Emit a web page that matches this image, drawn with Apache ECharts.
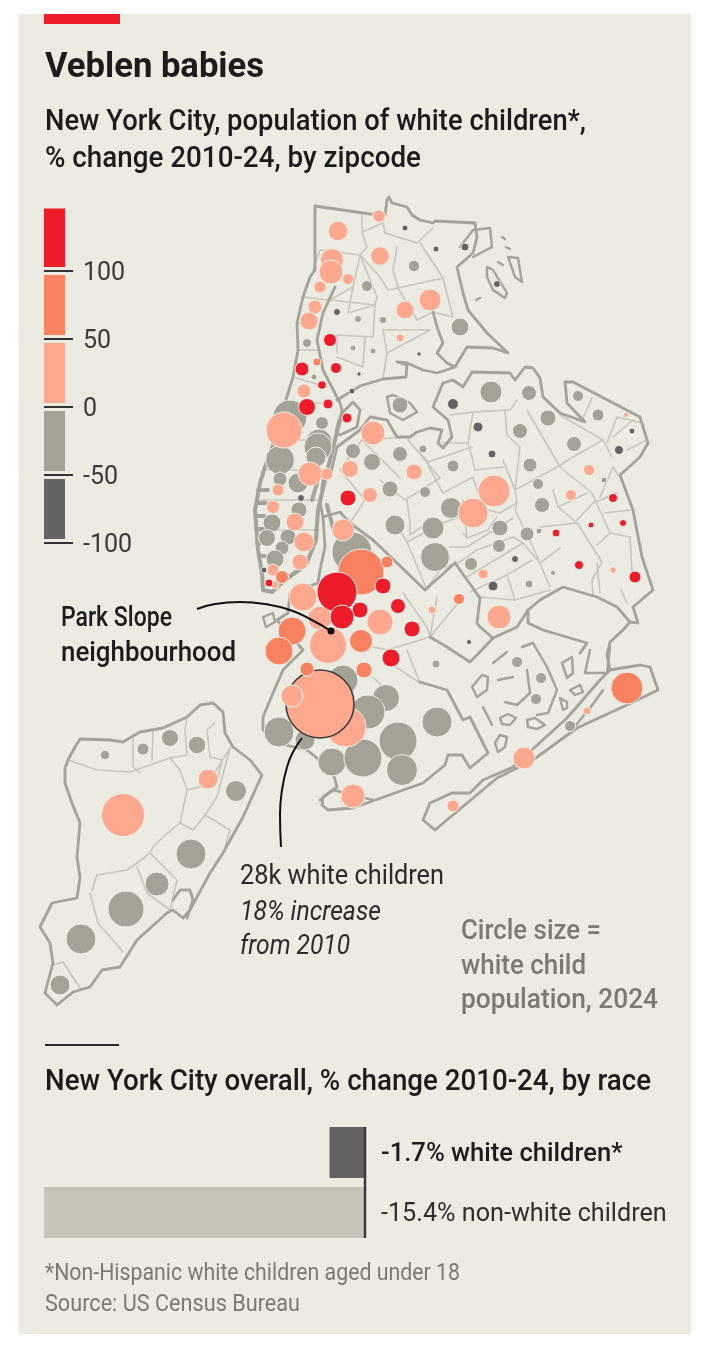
<!DOCTYPE html>
<html><head><meta charset="utf-8">
<style>html,body{margin:0;padding:0;background:#fff}#panel{position:absolute;left:19px;top:14px;width:672px;height:1320px;background:#ebebe1}#c{position:absolute;left:0;top:0;width:712px;height:1352px}</style>
<script src="https://cdn.jsdelivr.net/npm/echarts@6/dist/echarts.min.js"></script>
</head><body><div id="panel"></div><div id="c"></div>
<script>
// Zipcode circles: [x, y, radius]
const fallOver50 = [[405,228,3],[436,249,3],[465,247,4],[497,284,3.5],[337,312,3.5],[419,354,2.2],[359,374,2.2],[352,391,3],[453,404,5.5],[478,427,5],[492,454,4],[632,431,3],[619,450,4.5],[515,559,3.5],[493,586,5],[469,642,2.5],[301,498,3.5],[264,570,3]];
const fall0to50 = [[414,266,5.7],[367,286,5.5],[358,319,3.5],[383,320,3.7],[460,327,9],[307,343,4.5],[353,348,3],[373,351,3],[314,377,3],[491,392,11],[529,393,7.5],[400,405,8],[290,417,17],[520,431,7.5],[322,423,6.5],[319,442,13],[318,447,14],[316,457,10],[353,451,7.5],[400,454,7.5],[423,449,4],[453,466,6],[530,465,7],[280,460,14.5],[372,462,8.5],[280,479,7],[390,489,8],[298,483,10],[578,396,5.5],[548,418,8],[598,415,6],[574,444,7.5],[604,480,3],[538,484,5.5],[425,492,5.5],[542,505,7.5],[451,508,10.5],[500,528,8],[433,528,11],[527,534,7],[539,531,3],[499,546,6.5],[435,557,14.5],[471,564,6.5],[553,573,2.5],[529,584,4],[299,510,8],[272,523,9],[395,525,10],[267,538,8.5],[288,537,8],[282,548,7],[275,559,9],[352,552,20],[436,664,4],[343,680,15],[386,698,13.5],[368,712,17],[437,722,15],[279,732,15],[398,741,19],[305,740,10],[332,762,14],[363,758,19],[402,770,15.5],[517,662,5.5],[541,678,5.5],[536,699,5.5],[570,726,5.5],[105,755,4.7],[143,749,6],[170,738,8.5],[197,745,8.7],[236,791,10.5],[191,854,15],[157,884,12],[126,909,18],[81,939,15],[60,985,10]];
const rise0to50 = [[338,231,9.7],[379,216,6.3],[380,256,9.3],[332,260,11.5],[331,272,12],[348,279,5.5],[320,287,6],[430,300,11],[405,310,9],[315,307,7],[309,321,9],[400,338,4],[304,391,7],[284,430,18],[373,433,12],[414,472,8],[350,469,8.5],[310,474,12],[327,474,6],[278,490,6],[494,491,16],[370,495,7.5],[626,415,2.5],[589,470,5.5],[571,495,5.5],[473,513,15],[483,574,5],[613,570,3.2],[432,610,4],[499,617,12],[273,507,6.5],[295,522,9],[304,542,10],[343,530,11],[300,562,8],[273,570,6],[275,585,4],[303,597,14],[320,618,12],[380,622,13],[328,645,18.5],[346,727,20],[353,796,12],[453,806,6],[587,711,4],[524,758,11],[208,779,10],[123,815,21.5],[320,704,34],[292,696,11]];
const rise50to100 = [[317,362,4],[459,599,5.5],[361,572,23],[387,562,6],[282,577,6.5],[292,631,14],[279,651,14],[361,641,11.5],[307,669,7],[364,670,8],[627,688,16]];
const riseOver100 = [[330,340,6.5],[302,369,7],[336,368,5.5],[322,385,4.3],[328,404,5],[307,407,8.5],[347,418,5],[613,498,4.5],[591,525,3],[623,523,3.5],[556,533,4],[579,565,4.5],[635,577,6],[348,498,8],[269,583,4],[383,586,8],[337,592,20],[398,606,7.5],[360,610,8],[342,617,12],[412,629,8],[391,658,9]];
const highlightedZip = [320,704];

// Colour key, % change
const keyTicks = [-100,-50,0,50,100];
const keyBands = [[-100,-50],[-50,0],[0,50],[50,100],[100,146]];
const keyColours = ['#636361','#a2a297','#fda88f','#f88260','#ee1c2b'];

// Overall change by race
const raceLabels = ['-1.7% white children*','-15.4% non-white children'];
const raceChange = [-1.7,-15.4];
const raceColours = ['#636363','#c4c4b8'];
const raceZeroLine = [[365,1127],[365,1238]];

// Map outlines
const coastLines = [
 [[315,206],[370,214],[385,215],[387,200],[389,197],[392,203],[407,207],[412,215],[420,220],[433,223],[435,221],[475,223],[477,237],[473,253],[457,267],[463,293],[468,310],[487,333],[508,353],[493,348],[467,347],[455,367],[447,363],[437,353],[443,343],[438,330],[433,312]],
 [[455,367],[437,373],[423,370],[407,363],[397,362],[407,365],[406,377],[383,379],[360,386],[337,400]],
 [[315,206],[315,270],[310,277],[303,297],[297,323],[298,350],[293,377],[285,403]],
 [[340,420],[342,410],[340,403],[323,370],[317,340],[323,313],[335,287]],
 [[338,423],[342,413],[353,402],[360,410],[357,427],[340,435],[336,432],[338,423]],
 [[323,517],[320,503],[323,480],[330,477],[337,447],[360,430],[370,417],[387,420],[397,437],[410,437],[417,432],[430,428],[442,430],[438,443],[443,448],[452,437],[448,420],[433,407],[443,383],[453,380],[463,387],[472,372],[510,373],[515,380],[525,367],[533,368],[540,378],[543,397],[560,413],[585,422],[567,403],[565,382],[573,382],[640,417],[648,443],[640,457],[620,475],[633,510],[642,557],[653,590],[633,607],[638,623],[630,622],[617,607],[597,597],[563,587],[540,600],[528,610],[528,623],[543,630],[587,643],[580,653]],
 [[630,622],[623,630],[610,642],[607,655],[610,670]],
 [[640,665],[650,667],[658,690],[627,705],[577,728],[533,760],[497,778],[435,830],[423,820],[430,803],[452,793],[470,793],[483,780],[513,767],[567,718],[600,680],[610,670],[640,665]],
 [[528,610],[517,627],[493,638],[477,655],[470,662],[447,647],[430,637]],
 [[493,638],[480,627],[477,623],[480,598],[455,563],[425,590],[397,563],[373,540],[350,523],[340,512],[323,517]],
 [[323,517],[325,547],[320,570],[318,583],[290,593],[288,613],[277,620],[303,650],[283,670],[273,693],[263,717],[263,730],[277,743],[307,750],[317,758],[333,773],[337,787],[323,797],[322,805],[328,810],[353,808],[423,783],[445,765],[448,755],[462,755],[470,768],[488,753],[470,717],[463,720],[447,690],[420,682]],
 [[320,800],[333,790],[373,800]],
 [[65,768],[68,760],[75,747],[80,739],[110,740],[123,742],[140,732],[163,728],[187,717],[200,705],[213,703],[223,712],[225,733],[233,747],[250,760],[262,775],[243,817],[223,853],[210,873],[190,910],[183,918],[173,910],[167,913],[137,940],[120,967],[102,970],[90,987],[73,992],[57,1005],[45,993],[53,963],[50,943],[40,927],[52,903],[77,898],[80,877],[77,857],[80,823],[72,803],[65,783],[65,768]],
 [[173,900],[180,890],[190,890],[193,900],[187,918]]
];
// Lower Manhattan shoreline and piers, drawn heavier
const manhattanShore = [
 [[285,403],[275,440],[265,467],[260,483],[255,510],[258,550],[262,573],[263,590],[272,592],[285,580],[306,565],[316,540],[318,510],[325,480],[335,440],[340,420]],
 [[258,490],[268,490]],[[257,503],[266,503]],[[256,516],[264,516]],[[256,529],[263,529]],[[257,543],[264,543]],[[259,556],[265,556]],[[320,440],[325,452]],[[318,480],[312,500]],[[327,505],[335,535]]
];
const islandLoops = [
 [[487,267],[493,270],[507,293],[505,298],[493,290],[487,277],[487,267]],
 [[508,257],[518,258],[522,282],[515,277],[508,257]],
 [[387,397],[393,395],[410,403],[417,412],[403,420],[390,413],[387,397]],
 [[263,617],[273,613],[275,622],[266,627],[263,617]],
 [[460,247],[473,230],[490,228],[492,247],[473,257]],
 [[472,687],[482,675],[488,677],[487,690],[477,697],[472,687]],
 [[495,743],[500,735],[507,737],[505,747],[498,752],[495,743]],
 [[500,718],[508,714],[516,718],[510,725],[502,724],[500,718]],
 [[527,720],[535,718],[545,725],[537,729],[528,727],[527,720]],
 [[563,710],[560,698],[567,702],[567,708],[563,710]],
 [[562,663],[572,657],[573,673],[567,678],[562,663]],
 [[570,690],[580,685],[583,692],[575,695],[570,690]],
 [[522,647],[533,643],[547,667],[557,690],[548,713],[537,715]],
 [[527,670],[530,693],[517,705],[505,702]],
 [[493,663],[507,652]],[[498,680],[513,677]],[[483,707],[492,725]],
 [[590,650],[585,673],[607,673],[610,647]],
 [[576,725],[590,708],[603,690]],
 [[498,262],[503,265]],[[506,247],[510,249]],[[502,237],[505,239]],[[476,300],[480,298]]
];
const borderLines = [
 [[362,213],[362,232],[367,247],[360,255],[320,250],[313,270]],
 [[362,232],[383,223],[385,233],[417,243],[433,228]],
 [[397,247],[393,270],[398,288],[388,290],[380,277],[360,255]],
 [[398,288],[443,278],[453,317],[433,312]],[[420,243],[443,278]],[[398,288],[417,320],[433,312]],
 [[360,255],[353,287],[330,300],[375,305],[377,297],[360,255]],[[353,287],[348,313],[375,305]],
 [[375,305],[373,337],[337,335],[337,353]],[[383,330],[430,330],[387,353]],[[383,330],[387,353],[383,378]],
 [[365,337],[363,367],[337,357]],[[297,323],[318,322]],[[293,377],[327,387]],[[285,403],[333,403]],[[298,350],[318,350]],[[303,297],[328,300]],
 [[275,440],[335,440]],[[268,470],[325,470]],[[260,500],[318,500]],[[258,530],[316,530]],
 [[450,415],[473,412],[510,410],[517,400]],[[505,410],[507,435],[520,447],[515,490]],
 [[527,410],[560,467],[592,493],[610,533],[597,545]],[[473,412],[468,443],[472,457],[475,470],[503,467]],[[468,443],[442,443]],
 [[503,460],[515,490],[517,503],[500,513],[488,510]],[[515,490],[557,467],[573,457],[603,440]],[[517,503],[515,510],[533,547],[550,587]],
 [[427,463],[443,493],[473,477],[478,493]],[[408,440],[428,462],[472,447]],[[463,533],[467,538],[488,530],[497,517]],[[463,500],[467,538]],
 [[400,530],[407,542],[442,523],[460,517]],[[407,542],[427,590]],[[450,547],[467,547],[513,518]],
 [[458,563],[477,550],[513,537],[523,543],[540,563]],[[465,578],[500,557],[523,543]],[[470,592],[507,575],[532,560]],[[507,575],[515,600]],[[478,597],[515,600],[550,590]],
 [[540,527],[577,523],[602,562],[592,580],[593,597]],[[540,563],[560,548]],[[558,507],[587,493]],[[558,507],[577,523]],[[558,507],[553,490]],
 [[577,520],[593,503],[617,493]],[[605,513],[630,510]],[[610,533],[630,537]],[[600,497],[613,467],[618,475]],[[603,440],[612,457]],[[613,437],[633,420]],[[617,417],[642,423]],[[627,450],[647,440]],[[617,417],[607,443]],
 [[630,537],[632,573]],[[597,563],[600,593]],[[621,590],[627,603]],[[560,415],[603,440]],[[592,398],[583,418]],
 [[407,500],[410,523],[410,535],[427,523]],[[427,588],[440,570],[457,562]],[[403,593],[427,627],[430,637],[387,650],[373,647]],[[430,637],[458,603]],
 [[407,650],[420,683]],[[420,683],[385,660]],[[373,677],[383,687]],[[437,597],[430,637]],[[380,480],[405,500],[440,478]],[[350,523],[365,500],[340,470],[362,440],[400,478]],[[362,440],[410,437]],[[440,478],[408,440]],
 [[68,760],[97,770],[130,772],[170,758],[187,755],[185,730],[187,717]],[[133,737],[133,767],[140,773]],[[153,732],[152,760]],
 [[170,758],[180,770],[187,790],[180,823]],[[187,790],[207,785],[230,748]],[[215,723],[207,730],[210,757],[222,760],[218,777]],
 [[180,823],[163,837],[153,847],[150,853],[137,863],[127,870],[97,875],[92,890]],[[180,823],[193,830],[205,815],[230,830],[225,847]],[[205,815],[217,797],[230,748]],
 [[150,853],[177,880],[170,910]],[[137,867],[147,893],[170,910]],[[90,893],[98,923],[123,952]],[[63,962],[80,988]],[[53,965],[63,962]]
];

// Annotation leaders
const parkSlopeLeader = [[197,609],[215,604],[240,602],[265,604],[290,610],[310,619],[331,631]];
const parkSlopeDot = [[331,631]];
const circleLeader = [[302,738],[293,752],[287,767],[282,790],[280,815],[281,847]];

const INK='#1c1c1a', GREY='#7a7a70', FONT='Roboto';
const measure=document.createElement('canvas').getContext('2d');
function text(str,x,base,targetW,size,weight,fill,style){
  const st=style||'normal';
  measure.font=`${st} ${weight} ${size}px ${FONT}`;
  const w=measure.measureText(str).width;
  return {type:'text',x:x,y:base-size*0.78+1.6,scaleX:targetW/w,originX:0,originY:0,silent:true,
    style:{text:str,x:0,y:0,fill:fill,font:`${st} ${weight} ${size}px ${FONT}`,textAlign:'left'}};
}
const bubble=(name,data,colour)=>({type:'scatter',name,data,xAxisIndex:0,yAxisIndex:0,silent:true,
  symbolSize:v=>v[2]*2,z:5,
  itemStyle:{color:colour,opacity:1,borderColor:'#efefe6',borderWidth:1}});
const paths=(d,colour,w,z)=>({type:'lines',coordinateSystem:'cartesian2d',polyline:true,xAxisIndex:0,yAxisIndex:0,silent:true,z,
  data:d.map(c=>({coords:c})),lineStyle:{color:colour,width:w,opacity:1,cap:'round',join:'round'}});

const chart=echarts.init(document.getElementById('c'),null,{renderer:'canvas',width:712,height:1352});
chart.setOption({
  animation:false,backgroundColor:'transparent',
  grid:[
    {left:0,top:0,width:712,height:1352},
    {left:44,top:208.5,width:21,height:334.5},
    {left:44,top:1122.5,width:321,height:120}
  ],
  xAxis:[
    {type:'value',gridIndex:0,min:0,max:712,show:false},
    {type:'value',gridIndex:1,min:0,max:1,show:false},
    {type:'value',gridIndex:2,min:-15.4,max:0,show:false}
  ],
  yAxis:[
    {type:'value',gridIndex:0,min:0,max:1352,inverse:true,show:false},
    {type:'value',gridIndex:1,min:-100,max:146,interval:50,position:'left',splitLine:{show:false},
      axisLine:{show:false},
      axisTick:{show:true,inside:true,length:29,customValues:keyTicks,lineStyle:{color:'#333',width:2}},
      axisLabel:{inside:true,customValues:keyTicks,color:'#3a3a38',fontFamily:FONT,fontSize:25,margin:39,
        formatter:v=>'{k|'+v+'}',rich:{k:{fontFamily:FONT,fontSize:25,color:'#3a3a38',padding:[6,0,0,0]}}}},
    {type:'category',gridIndex:2,data:raceLabels,inverse:true,position:'right',
      axisLine:{show:false},axisTick:{show:false},
      axisLabel:{margin:16,fontFamily:FONT,fontSize:25.2,color:'#2f2f2d',padding:[4,0,0,0],
        formatter:(v,i)=>i===0?'{b|'+v+'}':v,rich:{b:{fontFamily:FONT,fontSize:25.6,fontWeight:500,color:INK}}}}
  ],
  series:[
    paths(borderLines,'#c6c6bc',1.6,1),
    paths(coastLines,'#a3a39a',2.8,2),
    paths(manhattanShore,'#a3a39a',4,2),
    paths(islandLoops,'#a3a39a',2.4,2),
    bubble('-50 to -100',fallOver50,keyColours[0]),
    bubble('0 to -50',fall0to50,keyColours[1]),
    bubble('0 to 50',rise0to50,keyColours[2]),
    bubble('50 to 100',rise50to100,keyColours[3]),
    bubble('over 100',riseOver100,keyColours[4]),
    {type:'scatter',xAxisIndex:0,yAxisIndex:0,silent:true,z:6,data:[[highlightedZip[0],highlightedZip[1],34]],
      symbolSize:v=>v[2]*2,itemStyle:{color:'rgba(0,0,0,0)',borderColor:'#3a3a38',borderWidth:1.6,opacity:1}},
    {type:'scatter',xAxisIndex:0,yAxisIndex:0,silent:true,z:6,data:[[292,696,11],[307,669,7]],
      symbolSize:v=>v[2]*2,itemStyle:{color:p=>p.dataIndex===0?keyColours[2]:keyColours[3],borderColor:'#efefe6',borderWidth:1,opacity:1}},
    {type:'line',xAxisIndex:0,yAxisIndex:0,data:parkSlopeLeader,smooth:true,showSymbol:false,silent:true,z:7,lineStyle:{color:'#111',width:2}},
    {type:'line',xAxisIndex:0,yAxisIndex:0,data:circleLeader,smooth:true,showSymbol:false,silent:true,z:7,lineStyle:{color:'#111',width:2}},
    {type:'scatter',xAxisIndex:0,yAxisIndex:0,data:parkSlopeDot,symbolSize:7,silent:true,z:7,itemStyle:{color:'#111',opacity:1}},
    {type:'custom',xAxisIndex:1,yAxisIndex:1,silent:true,z:3,data:keyBands.map((b,i)=>[b[0],b[1],i]),
      encode:{y:[0,1]},
      renderItem:(p,api)=>{
        const a=api.coord([0,api.value(0)]),b=api.coord([1,api.value(1)]);
        const top=api.value(1)>=146?b[1]:b[1]+4;
        return {type:'rect',shape:{x:a[0],y:top,width:b[0]-a[0],height:a[1]-4-top},style:{fill:keyColours[api.value(2)]}};
      }},
    {type:'bar',xAxisIndex:2,yAxisIndex:2,barWidth:51,silent:true,z:3,
      data:raceChange.map((v,i)=>({value:v,itemStyle:{color:raceColours[i]}}))},
    {type:'line',xAxisIndex:0,yAxisIndex:0,data:raceZeroLine,showSymbol:false,silent:true,z:4,lineStyle:{color:'#3a3a38',width:2.5}}
  ],
  graphic:{elements:[
    {type:'rect',shape:{x:44,y:14,width:76,height:10},style:{fill:'#ee1c2b'},silent:true},
    text('Veblen babies',45,76,219,35,700,INK),
    text('New York City, population of white children*,',45,129,541,30,500,INK),
    text('% change 2010-24, by zipcode',45,166,376,30,500,INK),
    text('Park Slope',61,625,111,27,500,INK),
    text('neighbourhood',61,660,175,27,500,INK),
    text('28k white children',240,883,204,27,400,'#2b2b29'),
    text('18% increase',240,919,141,27,400,'#2b2b29','italic'),
    text('from 2010',240,953,110,27,400,'#2b2b29','italic'),
    text('Circle size =',461,938,140,27,500,GREY),
    text('white child',461,973,125,27,500,GREY),
    text('population, 2024',461,1007,197,27,500,GREY),
    {type:'line',shape:{x1:45,y1:1045,x2:119,y2:1045},style:{stroke:'#2b2b29',lineWidth:2},silent:true},
    text('New York City overall, % change 2010-24, by race',45,1089,606,29,500,INK),
    text('*Non-Hispanic white children aged under 18',45,1279,415,24,400,GREY),
    text('Source: US Census Bureau',45,1310,255,24,400,GREY)
  ]}
});
</script></body></html>
